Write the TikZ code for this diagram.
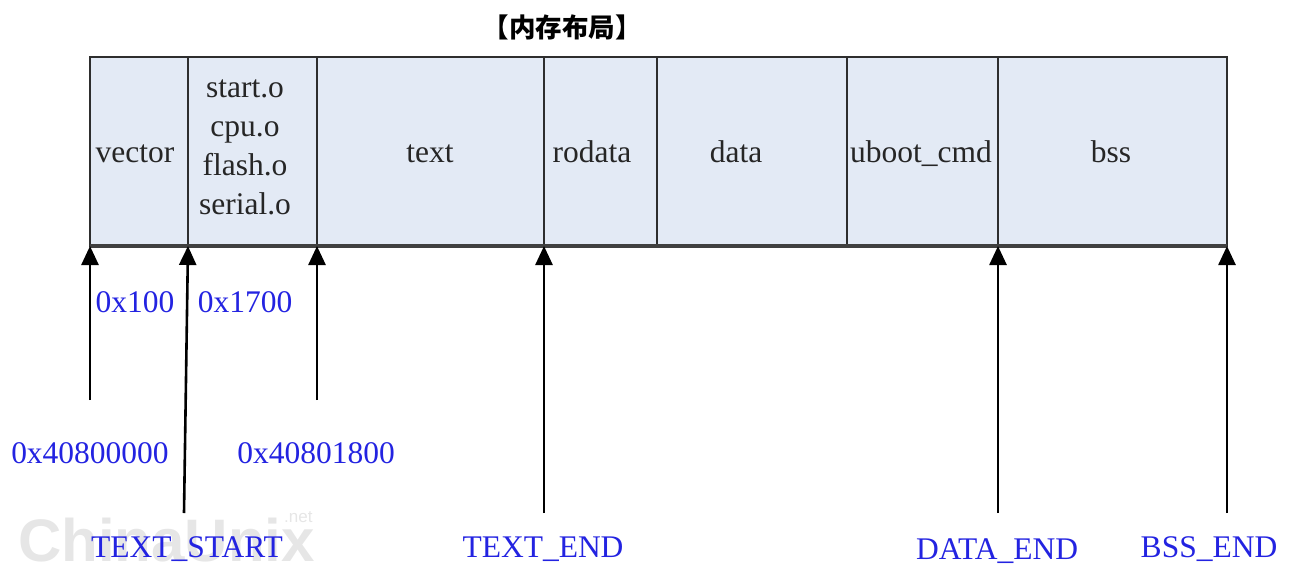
\documentclass[tikz,border=0pt]{standalone}
\usepackage{fontspec}
\setmainfont{Liberation Serif}
\newfontfamily\cjk{Noto Sans CJK SC}
\newfontfamily\wmfont{Liberation Sans}
\usetikzlibrary{arrows.meta}
\definecolor{cellfill}{HTML}{E3EAF5}
\definecolor{celledge}{HTML}{2E2E2E}
\definecolor{lblblue}{RGB}{35,35,225}
\definecolor{wmgray}{HTML}{E6E6E6}
\tikzset{
  cell/.style={draw=celledge, line width=2.5pt, fill=cellfill, rectangle, inner sep=0pt, outer sep=0pt, minimum height=189pt, anchor=north west},
  celltxt/.style={inner sep=0pt, anchor=base, text=black!85, font=\fontsize{31.5}{39}\selectfont},
  addr/.style={inner sep=0pt, anchor=base, text=lblblue, font=\fontsize{31.5}{39}\selectfont},
  ptr/.style={line width=2.6pt, draw=black, -{Triangle[width=17pt,length=19pt]}},
}
\begin{document}
\begin{tikzpicture}[x=1pt,y=-1pt]
\useasboundingbox (0,0) rectangle (1296,566);
% watermark
\node[inner sep=0pt, anchor=base west, text=wmgray, font=\wmfont\bfseries\fontsize{60}{60}\selectfont] (wm) at (18,561) {ChinaUnix};
\node[inner sep=0pt, anchor=base west, text=wmgray, font=\wmfont\fontsize{17}{17}\selectfont] (wmnet) at (284,522) {.net};
% title
\node[inner sep=0pt, font=\cjk\bfseries\fontsize{26.5}{26.5}\selectfont] (title) at (562,27) {【内存布局】};
% cells
\node[cell, minimum width=98pt]  (c1) at (90,57)  {};
\node[cell, minimum width=129pt] (c2) at (188,57) {};
\node[cell, minimum width=227pt] (c3) at (317,57) {};
\node[cell, minimum width=113pt] (c4) at (544,57) {};
\node[cell, minimum width=190pt] (c5) at (657,57) {};
\node[cell, minimum width=151pt] (c6) at (847,57) {};
\node[cell, minimum width=229pt] (c7) at (998,57) {};
\draw[draw=black!75, line width=4pt] (c1.south west) -- (c7.south east);
% cell texts
\node[celltxt] (t1) at (135,162) {vector};
\node[celltxt, anchor=north, align=center, text depth=0pt] (t2) at (245,80) {start.o\\cpu.o\\flash.o\\serial.o};
\node[celltxt] (t3) at (430,162) {text};
\node[celltxt] (t4) at (592,162) {rodata};
\node[celltxt] (t5) at (736,162) {data};
\node[celltxt] (t6) at (921,162) {uboot\_cmd};
\node[celltxt] (t7) at (1111,162) {bss};
% pointer feet
\coordinate (p1) at (90,400);
\coordinate (p2) at (184,513);
\coordinate (p3) at (317,400);
\coordinate (p4) at (544,513);
\coordinate (p5) at (998,513);
\coordinate (p6) at (1227,513);
\draw[ptr] (p1) -- (c1.south west);
\draw[ptr] (p2) -- (c2.south west);
\draw[ptr] (p3) -- (c3.south west);
\draw[ptr] (p4) -- (c4.south west);
\draw[ptr] (p5) -- (c7.south west);
\draw[ptr] (p6) -- (c7.south east);
% address labels
\node[addr] (o1) at (135,312) {0x100};
\node[addr] (o2) at (245,312) {0x1700};
\node[addr] (a1) at (90,463) {0x40800000};
\node[addr] (a2) at (316,463) {0x40801800};
\node[addr] (s1) at (187,557) {TEXT\_START};
\node[addr] (s2) at (543,557) {TEXT\_END};
\node[addr] (s3) at (997,559) {DATA\_END};
\node[addr] (s4) at (1209,557) {BSS\_END};
\end{tikzpicture}
\end{document}
